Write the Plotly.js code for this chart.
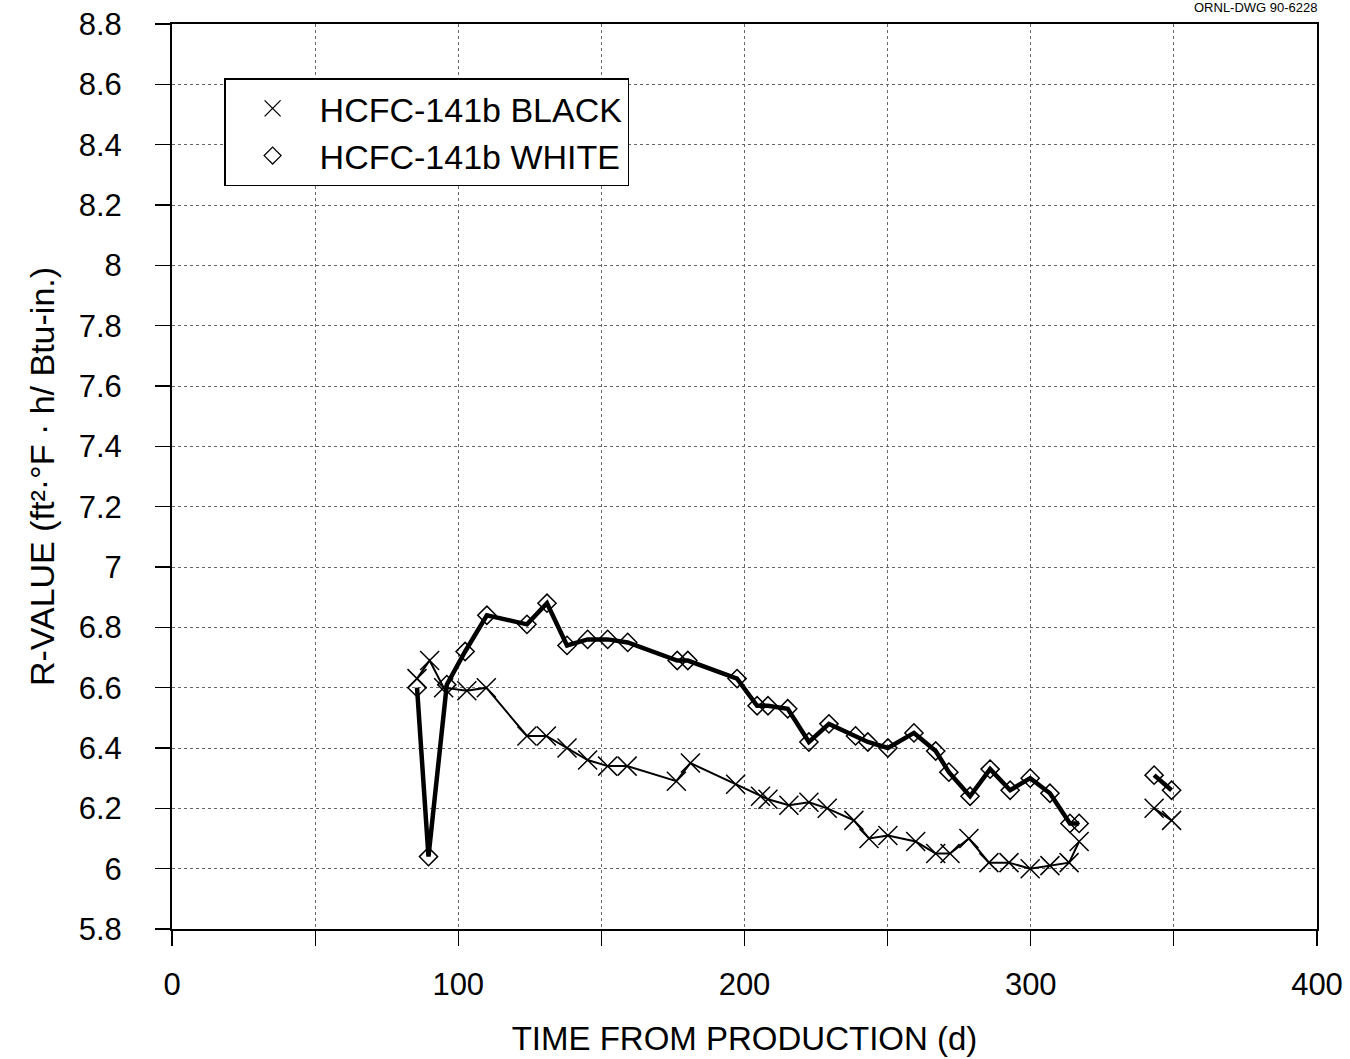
<!DOCTYPE html>
<html>
<head>
<meta charset="utf-8">
<script src="https://cdn.plot.ly/plotly-3.0.1.min.js"></script>
<style>html,body{margin:0;padding:0;background:#fff;}</style>
</head>
<body>
<div id="chart" style="width:1350px;height:1059px;"></div>
<script>
// Time from production (days) and R-value readings
const blackDays = [85.6, 90.0, 94.9, 103.0, 109.8, 124.0, 130.8, 138.0, 145.2, 152.2, 159.0, 176.2, 181.1, 196.9, 205.6, 208.2, 215.5, 222.5, 228.9, 238.2, 243.5, 250.1, 259.8, 266.8, 271.8, 278.4, 285.4, 292.4, 299.8, 306.7, 313.4, 316.9, null, 343.1, 349.2];
const blackR = [6.63, 6.69, 6.60, 6.59, 6.60, 6.44, 6.44, 6.40, 6.36, 6.34, 6.34, 6.29, 6.35, 6.28, 6.24, 6.23, 6.21, 6.22, 6.20, 6.16, 6.10, 6.11, 6.09, 6.05, 6.05, 6.10, 6.02, 6.02, 6.00, 6.01, 6.02, 6.09, null, 6.20, 6.16];
const whiteDays = [85.6, 89.6, 96.0, 102.4, 110.0, 124.0, 131.0, 138.0, 145.2, 152.2, 159.2, 176.5, 180.2, 197.4, 204.4, 208.2, 215.1, 222.5, 229.5, 238.8, 243.1, 250.1, 259.2, 266.8, 271.4, 278.8, 285.8, 292.8, 299.8, 306.7, 313.7, 316.9, null, 343.1, 349.2];
const whiteR = [6.60, 6.04, 6.61, 6.72, 6.84, 6.81, 6.88, 6.74, 6.76, 6.76, 6.75, 6.69, 6.69, 6.63, 6.54, 6.54, 6.53, 6.42, 6.48, 6.44, 6.42, 6.40, 6.45, 6.39, 6.32, 6.24, 6.33, 6.26, 6.30, 6.25, 6.15, 6.15, null, 6.31, 6.26];
const seriesNames = ['HCFC-141b BLACK', 'HCFC-141b WHITE'];
const xTickVals = [0, 100, 200, 300, 400];
const xTitle = 'TIME FROM PRODUCTION (d)';
const yTitle = 'R-VALUE (ft²·°F · h/ Btu-in.)';
const drawingId = 'ORNL-DWG 90-6228';

const FONT = 'Liberation Sans, Arial, Helvetica, sans-serif';

const traces = [
  {
    x: whiteDays, y: whiteR, mode: 'lines+markers', showlegend: false,
    line: {color: 'black', width: 4.5},
    marker: {symbol: 'diamond-open', size: 14, color: 'black', line: {width: 1.5, color: 'black'}},
    connectgaps: false
  },
  {
    x: blackDays, y: blackR, mode: 'lines+markers', showlegend: false,
    line: {color: 'black', width: 2},
    marker: {symbol: 'x-thin-open', size: 19, color: 'black', line: {width: 1.5, color: 'black'}},
    connectgaps: false
  },
  {
    x: [null], y: [null], mode: 'markers', name: seriesNames[0],
    marker: {symbol: 'x-thin-open', size: 16, color: 'black', line: {width: 1.3, color: 'black'}}
  },
  {
    x: [null], y: [null], mode: 'markers', name: seriesNames[1],
    marker: {symbol: 'diamond-open', size: 13, color: 'black', line: {width: 1.3, color: 'black'}}
  }
];

const gridStyle = {gridcolor: '#666', griddash: 'dot', gridwidth: 1};

const layout = {
  width: 1350, height: 1059,
  margin: {l: 172, r: 33, t: 24, b: 130},
  paper_bgcolor: 'white', plot_bgcolor: 'white',
  font: {family: FONT, color: 'black'},
  showlegend: true,
  xaxis: Object.assign({
    range: [0, 400], tickmode: 'array', tickvals: xTickVals,
    ticks: 'outside', ticklen: 15, tickwidth: 1.2, tickcolor: 'black',
    tickfont: {size: 31, family: FONT}, ticklabelstandoff: 12,
    showline: true, linecolor: 'black', linewidth: 2, mirror: true,
    showgrid: true, zeroline: false,
    minor: {dtick: 50, ticks: 'outside', ticklen: 15, tickwidth: 1.2, tickcolor: 'black', showgrid: true, gridcolor: '#666', griddash: 'dot', gridwidth: 1},
    title: {text: xTitle, font: {size: 33, family: FONT}, standoff: 26}
  }, gridStyle),
  yaxis: Object.assign({
    range: [5.8, 8.8], tick0: 5.8, dtick: 0.2,
    ticks: 'outside', ticklen: 15, tickwidth: 1.2, tickcolor: 'black',
    tickfont: {size: 31, family: FONT}, ticklabelstandoff: 27,
    showline: true, linecolor: 'black', linewidth: 2, mirror: true,
    showgrid: true, zeroline: false,
    title: {text: yTitle, font: {size: 34, family: FONT}, standoff: 14}
  }, gridStyle),
  legend: {
    x: 0.0455, y: 0.94, xanchor: 'left', yanchor: 'top',
    bgcolor: 'white', bordercolor: 'black', borderwidth: 1.5,
    font: {size: 34, family: FONT, color: 'black'},
    itemwidth: 84, tracegroupgap: 0
  },
  annotations: [{
    text: drawingId, xref: 'paper', yref: 'paper', x: 0.947, y: 1.018,
    xanchor: 'center', yanchor: 'middle', showarrow: false,
    font: {size: 13, family: FONT, color: 'black'}
  }]
};

Plotly.newPlot('chart', traces, layout, {staticPlot: true, displayModeBar: false});
</script>
</body>
</html>
